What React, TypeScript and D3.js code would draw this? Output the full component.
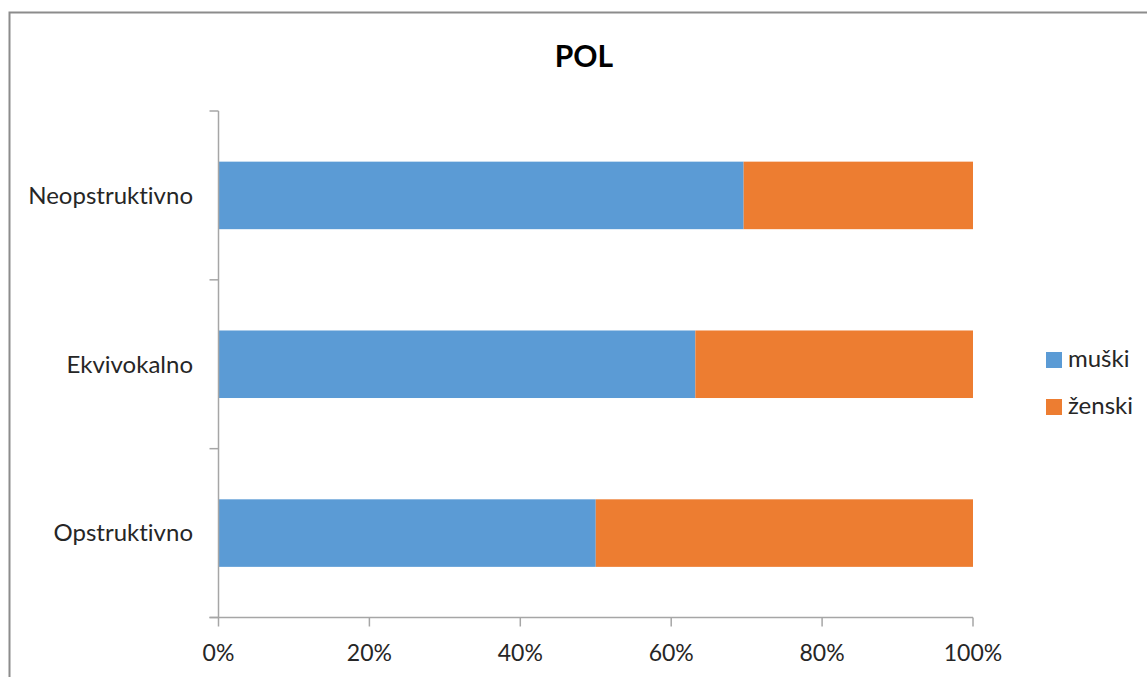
import React from "react";
import * as d3 from "d3";

const categories = ["Neopstruktivno", "Ekvivokalno", "Opstruktivno"];
const muski = [69.6, 63.2, 50.0];
const zenski = [30.4, 36.8, 50.0];
const seriesNames = ["muški", "ženski"];
const seriesColors = ["#5B9BD5", "#ED7D31"];
const xTicks = [0, 20, 40, 60, 80, 100];

const W = 1147;
const H = 677;
const FONT = "Lato, 'Open Sans', sans-serif";

export default function App() {
  const left = 218.5;
  const right = 973;
  const top = 111;
  const bottom = 617.5;

  const x = d3.scaleLinear().domain([0, 100]).range([left, right]);
  const y = d3.scaleBand().domain(categories).range([top, bottom]).paddingInner(0.6).paddingOuter(0.3);
  const yBounds = d3.range(categories.length + 1).map((i) => top + ((bottom - top) * i) / categories.length);

  const stacked = categories.map((c, i) => {
    const vals = [muski[i], zenski[i]];
    let acc = 0;
    return vals.map((v, s) => {
      const seg = { cat: c, s, x0: acc, x1: acc + v };
      acc += v;
      return seg;
    });
  });

  return (
    <svg
      width={W}
      height={H}
      style={{ position: "absolute", left: 0, top: 0, background: "#fff", fontVariantLigatures: "none" }}
      fontFamily={FONT}
    >
      <rect x={9.5} y={12.5} width={W + 20} height={H + 20} fill="#fff" stroke="#8c8c8c" strokeWidth={2} />
      <text x={584} y={67} textAnchor="middle" fontSize={30} fontWeight="bold" fill="#000">POL</text>

      {stacked.flat().map((seg, i) => (
        <rect
          key={i}
          x={x(seg.x0)}
          y={y(seg.cat)!}
          width={x(seg.x1) - x(seg.x0)}
          height={y.bandwidth()}
          fill={seriesColors[seg.s]}
        />
      ))}

      {/* y axis */}
      <line x1={left} x2={left} y1={top} y2={bottom} stroke="#a6a6a6" strokeWidth={1.5} />
      {yBounds.map((b, i) => (
        <line key={i} x1={left - 9} x2={left} y1={b} y2={b} stroke="#a6a6a6" strokeWidth={1.5} />
      ))}
      {categories.map((c) => (
        <text key={c} x={193} y={y(c)! + y.bandwidth() / 2} dy="0.35em" textAnchor="end" fontSize={24} fill="#262626">
          {c}
        </text>
      ))}

      {/* x axis */}
      <line x1={left - 9} x2={right} y1={bottom} y2={bottom} stroke="#a6a6a6" strokeWidth={1.5} />
      {xTicks.map((t) => (
        <g key={t}>
          <line x1={x(t)} x2={x(t)} y1={bottom} y2={bottom + 9} stroke="#a6a6a6" strokeWidth={1.5} />
          <text x={x(t)} y={661} textAnchor="middle" fontSize={23} fill="#262626">{t}%</text>
        </g>
      ))}

      {/* legend */}
      {seriesNames.map((n, i) => (
        <g key={n} transform={`translate(1046, ${352 + i * 47})`}>
          <rect x={0} y={0} width={16} height={16} fill={seriesColors[i]} />
          <text x={22} y={15} fontSize={24} fill="#262626">{n}</text>
        </g>
      ))}
    </svg>
  );
}
